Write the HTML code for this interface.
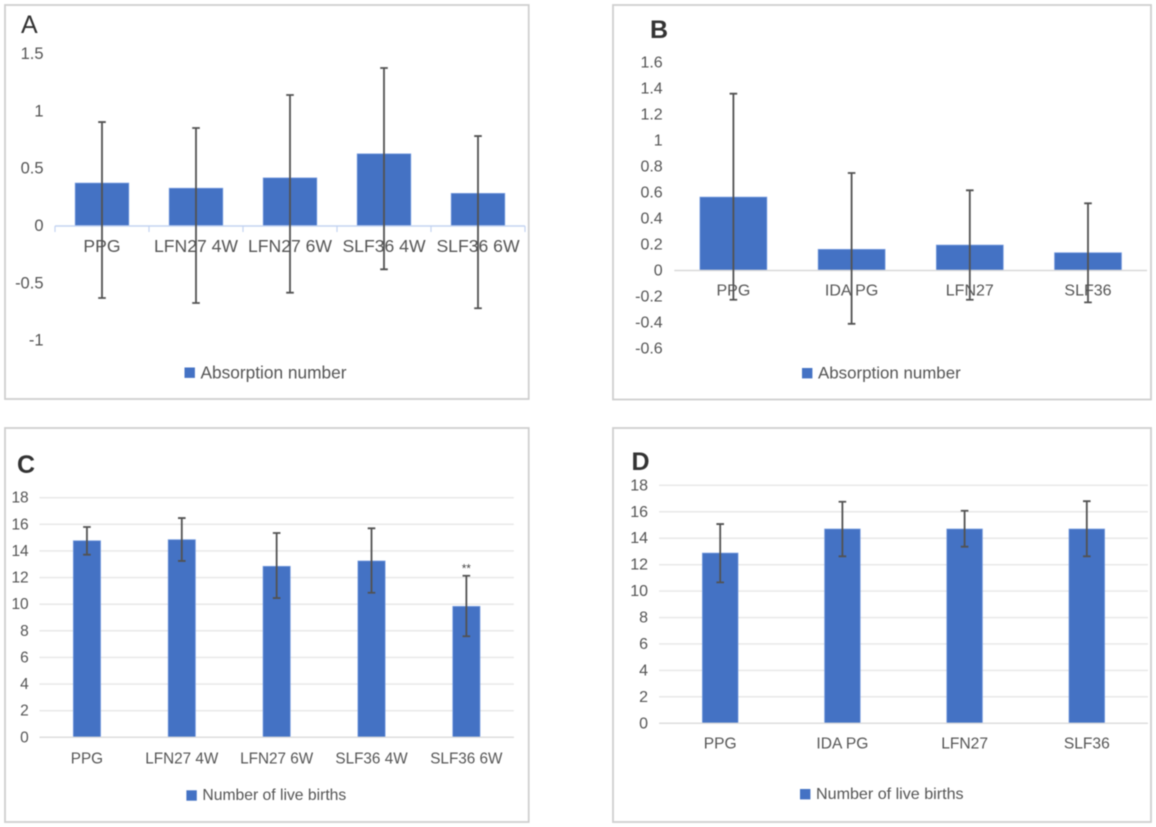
<!DOCTYPE html>
<html lang="en">
<head>
<meta charset="utf-8">
<title>Absorption number and live births charts</title>
<style>
html,body{margin:0;padding:0;background:#fff;}
body{width:1156px;height:827px;overflow:hidden;}
#figure{display:block;filter:blur(0.55px);}
text{font-family:"Liberation Sans",sans-serif;fill:#555;}
</style>
</head>
<body>
<svg id="figure" xmlns="http://www.w3.org/2000/svg" width="1156" height="827" viewBox="0 0 1156 827"></svg>
<script>
// Panel A
const categoriesA = ['PPG', 'LFN27 4W', 'LFN27 6W', 'SLF36 4W', 'SLF36 6W'];
const valuesA = [0.375, 0.33, 0.42, 0.63, 0.285];
const errorHighA = [0.907, 0.855, 1.143, 1.379, 0.785];
const errorLowA = [-0.628, -0.672, -0.582, -0.378, -0.718];
const ticksA = [1.5, 1, 0.5, 0, -0.5, -1];
// Panel B
const categoriesB = ['PPG', 'IDA PG', 'LFN27', 'SLF36'];
const valuesB = [0.565, 0.163, 0.196, 0.137];
const errorHighB = [1.36, 0.75, 0.617, 0.517];
const errorLowB = [-0.225, -0.41, -0.225, -0.245];
const ticksB = [1.6, 1.4, 1.2, 1, 0.8, 0.6, 0.4, 0.2, 0, -0.2, -0.4, -0.6];
// Panel C
const categoriesC = ['PPG', 'LFN27 4W', 'LFN27 6W', 'SLF36 4W', 'SLF36 6W'];
const valuesC = [14.77, 14.85, 12.85, 13.25, 9.84];
const errorHighC = [15.8, 16.47, 15.35, 15.7, 12.14];
const errorLowC = [13.72, 13.25, 10.46, 10.86, 7.59];
const ticksC = [18, 16, 14, 12, 10, 8, 6, 4, 2, 0];
// Panel D
const categoriesD = ['PPG', 'IDA PG', 'LFN27', 'SLF36'];
const valuesD = [12.88, 14.7, 14.7, 14.7];
const errorHighD = [15.07, 16.76, 16.08, 16.8];
const errorLowD = [10.66, 12.63, 13.36, 12.63];
const ticksD = [18, 16, 14, 12, 10, 8, 6, 4, 2, 0];

const svg = document.getElementById('figure');
const NS = 'http://www.w3.org/2000/svg';

function make(parent, tag, props, content) {
  const node = document.createElementNS(NS, tag);
  for (const key in props) node.setAttribute(key, props[key]);
  if (content !== undefined) node.textContent = content;
  parent.appendChild(node);
  return node;
}

function drawPanel(p) {
  const yScale = v => p.zeroY - v * p.unit;
  const band = (p.axisRight - p.axisLeft) / p.categories.length;
  const xScale = i => p.axisLeft + (i + 0.5) * band;

  const group = make(svg, 'g', {});
  
  

  const frame = make(group, 'rect', {x: p.box[0], y: p.box[1], width: p.box[2], height: p.box[3], fill: '#fff', stroke: '#cfcfcf', 'stroke-width': 1.8});
  
  

  const letter = make(group, 'text', {x: p.letter[0], y: p.letter[1], 'font-size': p.letter[2], 'font-weight': p.letter[3], style: 'fill:#333'}, p.id.toUpperCase());
  
  

  p.ticks.forEach(t => {
    if (p.grid) {
      const gridline = make(group, 'line', {x1: p.axisLeft, x2: p.axisRight, y1: yScale(t), y2: yScale(t), stroke: '#e6e6e6', 'stroke-width': 1.4});
      
      
    }
    const tickLabel = make(group, 'text', {x: p.tickRight, y: yScale(t) + p.tickDy, 'text-anchor': 'end', 'dominant-baseline': 'central', 'font-size': p.tickFont}, String(t));
    
    
  });

  p.values.forEach((v, i) => {
    const bar = make(group, 'rect', {
      x: xScale(i) - p.barWidth / 2,
      y: Math.min(yScale(v), yScale(0)),
      width: p.barWidth,
      height: Math.abs(yScale(v) - yScale(0)),
      fill: '#4472c4',
      stroke: '#7fa2e2',
      'stroke-width': 0.7
    });
    
    
  });

  const axis = make(group, 'line', {x1: p.axisLeft, x2: p.axisRight, y1: yScale(0), y2: yScale(0), stroke: p.axisColor, 'stroke-width': 1.4});
  
  

  if (p.axisTicks) {
    for (let i = 0; i <= p.categories.length; i++) {
      const mark = make(group, 'line', {x1: p.axisLeft + i * band, x2: p.axisLeft + i * band, y1: yScale(0), y2: yScale(0) + 6, stroke: p.axisColor, 'stroke-width': 1.2});
      
      
    }
  }

  p.categories.forEach((c, i) => {
    const catLabel = make(group, 'text', {x: xScale(i), y: p.catY, 'text-anchor': 'middle', 'dominant-baseline': 'central', 'font-size': p.catFont}, c);
    
    
  });

  p.values.forEach((v, i) => {
    const x = xScale(i);
    const hi = yScale(p.errorHigh[i]);
    const lo = yScale(p.errorLow[i]);
    const errorBar = make(group, 'path', {
      d: 'M' + x + ' ' + hi + 'V' + lo + 'M' + (x - 3.8) + ' ' + hi + 'H' + (x + 3.8) + 'M' + (x - 3.8) + ' ' + lo + 'H' + (x + 3.8),
      fill: 'none',
      stroke: '#525252',
      'stroke-width': 1.8
    });
    
    
  });

  if (p.star !== undefined) {
    const star = make(group, 'text', {x: xScale(p.star), y: yScale(p.errorHigh[p.star]) - 3, 'text-anchor': 'middle', 'font-size': 11.5, style: 'fill:#444'}, '**');
    
    
  }

  const swatch = make(group, 'rect', {x: p.legend[0], y: p.legend[1], width: 10.4, height: 10.4, fill: '#4472c4'});
  
  

  const legendText = make(group, 'text', {x: p.legend[0] + 16, y: p.legend[1] + 5.2, 'dominant-baseline': 'central', 'font-size': p.legend[3]}, p.legend[2]);
  
  
}

drawPanel({
  id: 'a', box: [5, 5, 523.7, 394], letter: [21, 33, 25, 'normal'],
  categories: categoriesA, values: valuesA, errorHigh: errorHighA, errorLow: errorLowA, ticks: ticksA,
  zeroY: 226, unit: 114.6, axisLeft: 55, axisRight: 525, barWidth: 53.7,
  tickRight: 43.5, tickDy: 0, tickFont: 16.5, catY: 246, catFont: 17.6,
  axisColor: '#c3d4f1', axisTicks: true, grid: false,
  legend: [184.5, 367.5, 'Absorption number', 17.3]
});
drawPanel({
  id: 'b', box: [613, 5, 538, 394.5], letter: [650, 38, 25, 'bold'],
  categories: categoriesB, values: valuesB, errorHigh: errorHighB, errorLow: errorLowB, ticks: ticksB,
  zeroY: 270.5, unit: 130, axisLeft: 674.3, axisRight: 1147.1, barWidth: 67,
  tickRight: 662.7, tickDy: 0.5, tickFont: 16, catY: 291, catFont: 16,
  axisColor: '#d9d9d9', axisTicks: false, grid: false,
  legend: [802, 368, 'Absorption number', 16.9]
});
drawPanel({
  id: 'c', box: [5, 428, 523.7, 394], letter: [17, 473, 25, 'bold'],
  categories: categoriesC, values: valuesC, errorHigh: errorHighC, errorLow: errorLowC, ticks: ticksC, star: 4,
  zeroY: 737.3, unit: 13.31, axisLeft: 39.5, axisRight: 513.8, barWidth: 27.3,
  tickRight: 28.7, tickDy: 0.5, tickFont: 15.5, catY: 759, catFont: 15.3,
  axisColor: '#dcdcdc', axisTicks: false, grid: true,
  legend: [186.4, 790.3, 'Number of live births', 15.7]
});
drawPanel({
  id: 'd', box: [613, 428, 538, 394], letter: [631.5, 470, 25, 'bold'],
  categories: categoriesD, values: valuesD, errorHigh: errorHighD, errorLow: errorLowD, ticks: ticksD,
  zeroY: 723.3, unit: 13.22, axisLeft: 659.1, axisRight: 1147.9, barWidth: 35.7,
  tickRight: 648, tickDy: 0.5, tickFont: 16, catY: 744, catFont: 15.6,
  axisColor: '#dcdcdc', axisTicks: false, grid: true,
  legend: [800, 789, 'Number of live births', 16.1]
});
</script>
</body>
</html>
